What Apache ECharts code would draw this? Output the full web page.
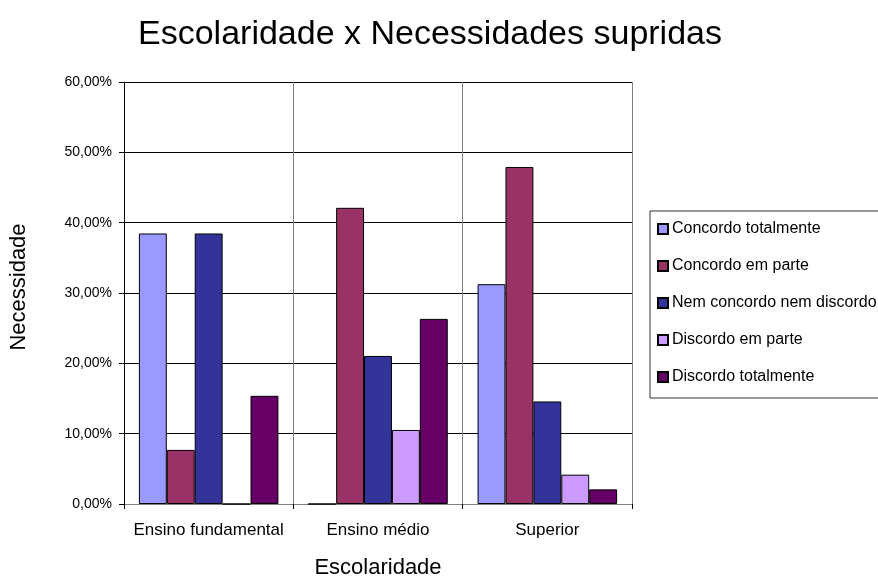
<!DOCTYPE html>
<html>
<head>
<meta charset="utf-8">
<script src="https://cdn.jsdelivr.net/npm/echarts@6/dist/echarts.min.js"></script>
<style>
html,body{margin:0;padding:0;background:#fff;}
#chart{width:878px;height:584px;}
</style>
</head>
<body>
<div id="chart"></div>
<script>
var categories = ['Ensino fundamental', 'Ensino médio', 'Superior'];
var seriesNames = ['Concordo totalmente', 'Concordo em parte', 'Nem concordo nem discordo', 'Discordo em parte', 'Discordo totalmente'];
var concordoTotalmente = [38.46, 0, 31.25];
var concordoEmParte = [7.69, 42.11, 47.92];
var nemConcordoNemDiscordo = [38.46, 21.05, 14.58];
var discordoEmParte = [0, 10.53, 4.17];
var discordoTotalmente = [15.38, 26.32, 2.08];
var yTicks = [0, 10, 20, 30, 40, 50, 60];

var seriesData = [concordoTotalmente, concordoEmParte, nemConcordoNemDiscordo, discordoEmParte, discordoTotalmente];
var colors = ['#9999FF', '#993366', '#333399', '#CC99FF', '#660066'];
var FONT = '"Liberation Sans", Arial, sans-serif';

var chart = echarts.init(document.getElementById('chart'), null, {renderer: 'canvas'});
var option = {
  animation: false,
  backgroundColor: '#ffffff',
  textStyle: {fontFamily: FONT, color: '#000'},
  title: {
    text: 'Escolaridade x Necessidades supridas',
    left: 430, textAlign: 'center', top: 18, padding: 0,
    textStyle: {fontFamily: FONT, fontSize: 34, fontWeight: 'normal', color: '#000'}
  },
  legend: {
    orient: 'vertical',
    left: 650, top: 211,
    padding: [10, 30, 13, 7],
    itemGap: 21,
    itemWidth: 10, itemHeight: 10,
    icon: 'rect',
    borderColor: '#333', borderWidth: 1,
    textStyle: {fontFamily: FONT, fontSize: 16, color: '#000', padding: [0, 0, 0, -1]},
    data: seriesNames
  },
  grid: {left: 122, right: 246, top: 82, bottom: 77, containLabel: false},
  xAxis: {
    type: 'category',
    data: categories,
    name: 'Escolaridade',
    nameLocation: 'middle',
    nameGap: 53,
    nameTextStyle: {fontFamily: FONT, fontSize: 22, color: '#000'},
    axisLine: {show: true, lineStyle: {color: '#808080', width: 1}},
    axisTick: {show: true, interval: 0, length: 5, lineStyle: {color: '#000'}},
    axisLabel: {interval: 0, hideOverlap: false, fontFamily: FONT, fontSize: 17, color: '#000', margin: 18},
    splitLine: {show: true, interval: 0, lineStyle: {color: '#808080', width: 1}}
  },
  yAxis: {
    type: 'value',
    min: 0, max: 60, interval: 10,
    name: 'Necessidade',
    nameLocation: 'middle',
    nameGap: 94,
    nameTextStyle: {fontFamily: FONT, fontSize: 22, color: '#000', padding: [0, 0, 0, 12]},
    axisLine: {show: true, lineStyle: {color: '#000', width: 1}},
    axisTick: {show: true, length: 5, inside: false, lineStyle: {color: '#000'}},
    axisLabel: {
      fontFamily: FONT, fontSize: 14, color: '#000', margin: 12,
      formatter: function (v) { return v.toFixed(2).replace('.', ',') + '%'; }
    },
    splitLine: {show: true, lineStyle: {color: '#000', width: 1}}
  },
  series: seriesNames.map(function (name, i) {
    return {
      name: name,
      type: 'bar',
      data: seriesData[i],
      barGap: '0%',
      barCategoryGap: '17.6%',
      itemStyle: {color: colors[i], borderColor: '#000', borderWidth: 1}
    };
  })
};
chart.setOption(option);
</script>
</body>
</html>
